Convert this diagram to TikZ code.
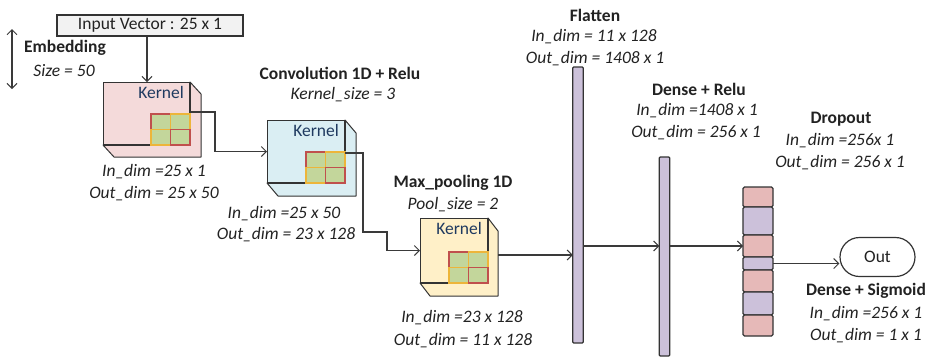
\documentclass[tikz,border=0pt]{standalone}
\usepackage{fontspec}
\setmainfont{Carlito}
\usetikzlibrary{arrows.meta}

\definecolor{ink}{HTML}{222222}
\definecolor{edge}{HTML}{333333}
\definecolor{wire}{HTML}{3A3A3A}
\definecolor{navy}{HTML}{1F3A60}
\definecolor{cpink}{HTML}{F4DADA}
\definecolor{cblue}{HTML}{DAEEF3}
\definecolor{cyell}{HTML}{FFF0C8}
\definecolor{cellg}{HTML}{C3D69B}
\definecolor{cellr}{HTML}{C0504D}
\definecolor{cello}{HTML}{EDB53A}
\definecolor{lav}{HTML}{CCC1DA}
\definecolor{dpink}{HTML}{E6B9B8}
\definecolor{boxgray}{HTML}{F2F2F2}

% a kernel cube: #1 name, #2,#3 top-left of front face, #4 width, #5 height,
% #6,#7 depth offset, #8 fill colour
\newcommand{\kernelcube}[8]{%
  \node[face, fill=#8, minimum width=#4 pt, minimum height=#5 pt, anchor=north west] (#1) at (#2,#3) {};
  \filldraw[facedge, fill=#8] (#1.north east) -- ++(#6,#7) -- ++(0,#5) -- ++(-#4,0)
     -- (#1.south west) -- (#1.south east) -- cycle;
  \draw[facedge, line width=1.4pt] (#1.north east) -- (#1.south east) -- (#1.south west);
  \begin{scope}[shift={(#1.south east)}]
    \filldraw[cell, draw=cellr] (-39,-31) rectangle (-19.5,-15.5);
    \filldraw[cell, draw=cello] (-19.5,-31) rectangle (0,-15.5);
    \filldraw[cell, draw=cello] (-39,-15.5) rectangle (-19.5,0);
    \filldraw[cell, draw=cellr] (-19.5,-15.5) rectangle (0,0);
  \end{scope}
  \node[kern, anchor=east] at ([xshift=-6pt,yshift=-10pt]#1.north east) {Kernel};
}

\begin{document}
\begin{tikzpicture}[x=1pt, y=-1pt,
  txt/.style={font=\fontsize{17.5}{21}\selectfont, text=ink, inner sep=0pt},
  ttl/.style={txt, font=\fontsize{17.5}{21}\selectfont\bfseries},
  dim/.style={txt, font=\fontsize{17.5}{21}\selectfont\itshape},
  kern/.style={txt, text=navy},
  face/.style={draw=edge, line width=1pt, inner sep=0pt, outer sep=0pt},
  facedge/.style={draw=edge, line width=1pt, line join=round},
  cell/.style={fill=cellg, line width=1.2pt},
  bar/.style={draw=edge, fill=lav, line width=1.2pt, inner sep=0pt, outer sep=0pt,
              minimum width=10.5pt, rounded corners=1pt},
  seg/.style={draw=edge, line width=1.2pt, inner sep=0pt, outer sep=0pt,
              minimum width=30pt, rounded corners=1.5pt},
  conn/.style={draw=wire, line width=1.2pt,
               -{Straight Barb[length=5pt, width=10pt, line width=1pt]}},
]
\useasboundingbox (0,0) rectangle (934,357);

% input and embedding
\node[draw=edge, fill=boxgray, line width=1.2pt, txt, minimum width=186pt,
      minimum height=21pt] (inp) at (150,25.5) {Input Vector : 25 x 1};
\coordinate (embtop) at (12,29);
\coordinate (embbot) at (12,89);
\draw[draw=wire, line width=1.2pt,
      {Straight Barb[length=5pt, width=10pt, line width=1pt]}-{Straight Barb[length=5pt, width=10pt, line width=1pt]}]
      (embtop) -- (embbot);
\node[ttl] (embt) at (65,48) {Embedding};
\node[dim] (embs) at (64,71) {Size = 50};

% convolutional part
\kernelcube{c1}{103}{82}{87}{63}{11}{12}{cpink}
\kernelcube{c2}{267}{120}{78}{63}{11}{13}{cblue}
\kernelcube{c3}{420}{218}{68}{65}{10}{13}{cyell}

\draw[conn] ([xshift=-3pt]inp.south) -- ([xshift=-3pt]inp.south |- c1.north);
\draw[conn] ([yshift=-30pt]c1.north east) -- ++(25,0) |- (c2.west);
\draw[conn] ([yshift=-33pt]c2.north east) -- ++(18,0) -- ++(0,79) -- ++(24,0) |- (c3.west);

\node[dim] at (154,172) {In\_dim =25 x 1};
\node[dim] at (154,194) {Out\_dim = 25 x 50};
\node[ttl] at (340,73) {Convolution 1D + Relu};
\node[dim] at (343,95) {Kernel\_size = 3};
\node[dim] at (284,214) {In\_dim =25 x 50};
\node[dim] at (286,235) {Out\_dim = 23 x 128};
\node[ttl] at (453,183) {Max\_pooling 1D};
\node[dim] at (453,205) {Pool\_size = 2};
\node[dim] at (462,318) {In\_dim =23 x 128};
\node[dim] at (463,341) {Out\_dim = 11 x 128};

% dense part
\node[bar, minimum height=276pt] (fb) at (578,205) {};
\node[bar, minimum height=199pt] (db) at (664.5,256.5) {};
\foreach \i/\cy/\h/\c in {1/197/20/dpink, 2/221/28/lav, 3/246/22/dpink, 4/263.5/13/lav,
                          5/281/22/dpink, 6/303.5/23/lav, 7/325.5/21/dpink}
  \node[seg, fill=\c, minimum height=\h pt] (d\i) at (758,\cy) {};
\node[draw=edge, line width=1.2pt, txt, minimum width=75pt, minimum height=39pt,
      rounded corners=19.5pt] (out) at (877.5,257) {Out};

\coordinate (c3r) at (498,255);
\draw[conn] (c3r) -- (c3r -| fb.west);
\draw[conn] (fb.east |- d3.west) -- (db.west |- d3.west);
\draw[conn] (db.east |- d3.west) -- (d3.west);
\draw[conn] (d4.east) -- (d4.east -| out.west);

\node[ttl] at (595,15) {Flatten};
\node[dim] at (594,37) {In\_dim = 11 x 128};
\node[dim] at (595,59) {Out\_dim = 1408 x 1};
\node[ttl] at (699,89) {Dense + Relu};
\node[dim] at (697,111) {In\_dim =1408 x 1};
\node[dim] at (696,133) {Out\_dim = 256 x 1};
\node[ttl] at (841,119) {Dropout};
\node[dim] at (840,141) {In\_dim =256x 1};
\node[dim] at (840,163) {Out\_dim = 256 x 1};
\node[ttl] at (866,291) {Dense + Sigmoid};
\node[dim] at (866,314) {In\_dim =256 x 1};
\node[dim] at (866,336) {Out\_dim = 1 x 1};
\end{tikzpicture}
\end{document}
